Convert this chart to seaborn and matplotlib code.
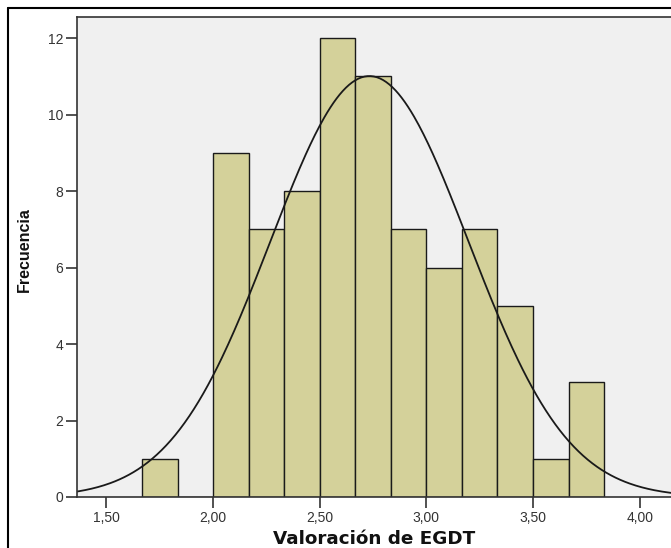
import numpy as np
import matplotlib
matplotlib.use("Agg")
import matplotlib.pyplot as plt
import seaborn as sns
from matplotlib.lines import Line2D

# histogram bins (width 1/6) and counts
bin_edges = [1.6667, 1.8333, 2.0, 2.1667, 2.3333, 2.5, 2.6667,
             2.8333, 3.0, 3.1667, 3.3333, 3.5, 3.6667, 3.8333]
counts = [1, 0, 9, 7, 8, 12, 11, 7, 6, 7, 5, 1, 3]
# normal curve parameters
mean_val = 2.733
sd_val = 0.465
x_ticks = [1.5, 2.0, 2.5, 3.0, 3.5, 4.0]
y_ticks = [0, 2, 4, 6, 8, 10, 12]

sns.set_style("white")
plt.rcParams["font.family"] = ["Liberation Sans", "DejaVu Sans"]

fig = plt.figure(figsize=(6.71, 5.48), dpi=100)
ax = fig.add_axes([77 / 671, 1 - 497 / 548, 1 - 77 / 671, (497 - 17) / 548])
ax.set_facecolor("#f0f0f0")

centers = [(a + b) / 2 for a, b in zip(bin_edges[:-1], bin_edges[1:])]
sns.histplot(x=centers, weights=counts, bins=bin_edges, ax=ax,
             color="#d4d19a", alpha=1, edgecolor="#1a1a1a", linewidth=1.0)

# normal curve scaled to counts
n = sum(counts)
width = bin_edges[1] - bin_edges[0]
xs = np.linspace(1.3, 4.2, 400)
ys = n * width / (sd_val * np.sqrt(2 * np.pi)) * np.exp(-0.5 * ((xs - mean_val) / sd_val) ** 2)
sns.lineplot(x=xs, y=ys, ax=ax, color="#1a1a1a", linewidth=1.3)

ax.set_xlim(1.362, 4.147)
ax.set_ylim(0, 12.55)
ax.set_xticks(x_ticks)
ax.set_xticklabels([f"{t:.2f}".replace(".", ",") for t in x_ticks])
ax.set_yticks(y_ticks)
ax.tick_params(axis="both", direction="out", length=8, width=1.2, color="#333333",
               labelsize=10, labelcolor="#333333", pad=2,
               bottom=True, left=True)
for side in ["left", "bottom", "top"]:
    ax.spines[side].set_color("#333333")
    ax.spines[side].set_linewidth(1.2)
ax.spines["right"].set_visible(False)

ax.set_xlabel("Valoración de EGDT", fontsize=13.2, fontweight="bold",
              family=["DejaVu Sans"], color="#111111")
ax.xaxis.set_label_coords(0.5, -0.068)
ax.set_ylabel("Frecuencia", fontsize=11.5, fontweight="bold", color="#111111")
ax.yaxis.set_label_coords(-0.076, 0.515)

# outer frame
fig.add_artist(Line2D([8 / 671, 8 / 671], [0, 1 - 8 / 548], color="black", lw=1.5))
fig.add_artist(Line2D([8 / 671, 1], [1 - 8 / 548, 1 - 8 / 548], color="black", lw=1.5))

fig.savefig("out.png", dpi=100)
